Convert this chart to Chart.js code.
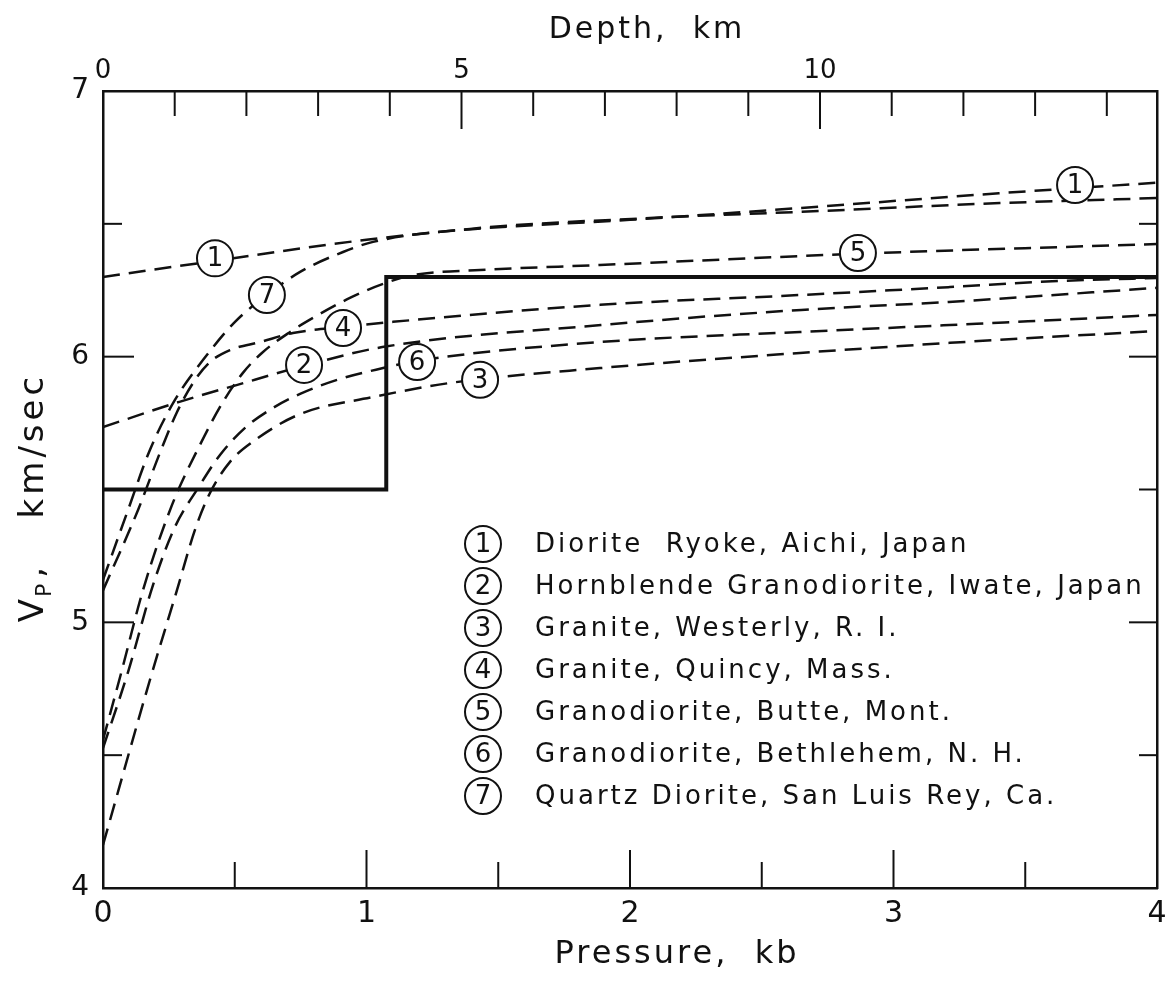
<!DOCTYPE html>
<html>
<head>
<meta charset="utf-8">
<script src="https://cdn.jsdelivr.net/npm/chart.js@4/dist/chart.umd.min.js"></script>
<style>
  html, body { margin: 0; padding: 0; background: #fff; }
  #wrap { width: 1168px; height: 984px; }
</style>
</head>
<body>
<div id="wrap"><canvas id="vpChart" width="1168" height="984"></canvas></div>
<script>
'use strict';

/* ───── DATA ─────────────────────────────────────────────────────────── */
const KM_PER_KB = 3.675;          // depth scale on the top axis

const pressureTicks = [0, 1, 2, 3, 4];
const depthTicks    = [0, 5, 10];
const vpTicks       = [4, 5, 6, 7];

const pressureMarks = [0.5, 1, 1.5, 2, 2.5, 3, 3.5];
const depthMarks    = [1, 2, 3, 4, 5, 6, 7, 8, 9, 10, 11, 12, 13, 14];
const vpMarks       = [4.5, 5, 5.5, 6, 6.5];

const sampleNames = [
    'Diorite  Ryoke, Aichi, Japan',
    'Hornblende Granodiorite, Iwate, Japan',
    'Granite, Westerly, R. I.',
    'Granite, Quincy, Mass.',
    'Granodiorite, Butte, Mont.',
    'Granodiorite, Bethlehem, N. H.',
    'Quartz Diorite, San Luis Rey, Ca.',
];

// [pressure kb, Vp km/sec]
const curve1 = [[0, 6.30], [0.42, 6.36], [1.0, 6.44], [1.4, 6.48], [2.0, 6.515], [2.65, 6.56], [3.4, 6.615], [4, 6.655]];
const curve2 = [[0, 5.735], [0.29, 5.83], [0.51, 5.894], [0.76, 5.965], [1.06, 6.036], [1.89, 6.119], [2.65, 6.176], [3.21, 6.206], [4, 6.259]];
const curve3 = [[0, 4.162], [0.178, 4.783], [0.281, 5.122], [0.349, 5.348], [0.406, 5.487], [0.482, 5.604], [0.577, 5.686], [0.748, 5.784], [1.025, 5.848], [1.317, 5.901], [1.886, 5.957], [2.645, 6.014], [3.214, 6.052], [4, 6.097]];
const curve4 = [[0, 5.12], [0.133, 5.423], [0.216, 5.638], [0.281, 5.792], [0.349, 5.912], [0.406, 5.98], [0.482, 6.025], [0.596, 6.055], [0.721, 6.089], [0.911, 6.112], [1.10, 6.131], [1.886, 6.195], [2.645, 6.232], [3.214, 6.262], [3.632, 6.285], [4, 6.296]];
const curve5 = [[0, 4.557], [0.072, 4.821], [0.152, 5.122], [0.262, 5.442], [0.368, 5.668], [0.455, 5.829], [0.531, 5.939], [0.603, 6.014], [0.71, 6.093], [0.797, 6.146], [0.937, 6.221], [1.063, 6.274], [1.176, 6.307], [1.431, 6.326], [1.886, 6.345], [2.854, 6.387], [4, 6.424]];
const curve6 = [[0, 4.527], [0.095, 4.813], [0.19, 5.141], [0.273, 5.359], [0.361, 5.506], [0.444, 5.63], [0.539, 5.732], [0.645, 5.807], [0.748, 5.86], [0.899, 5.916], [1.063, 5.957], [1.192, 5.984], [1.886, 6.055], [2.645, 6.093], [3.214, 6.119], [4, 6.157]];
const curve7 = [[0, 5.16], [0.095, 5.423], [0.178, 5.649], [0.273, 5.837], [0.38, 5.988], [0.501, 6.131], [0.622, 6.232], [0.748, 6.319], [0.911, 6.394], [1.025, 6.432], [1.393, 6.481], [2.076, 6.522], [2.645, 6.545], [3.404, 6.578], [4, 6.597]];
const curves = [curve1, curve2, curve3, curve4, curve5, curve6, curve7];

// layered-crust model: 5.5 km/sec above 4 km, 6.3 km/sec below
const stepP = [0, 1.075, 1.075, 4];
const stepV = [5.5, 5.5, 6.3, 6.3];

// circled curve numbers placed on the curves
const tagNums = [1, 7, 4, 2, 6, 3, 5, 1];
const tagP    = [0.425, 0.622, 0.911, 0.763, 1.192, 1.431, 2.865, 3.689];
const tagV    = [6.37, 6.232, 6.108, 5.969, 5.98, 5.913, 6.39, 6.646];

/* ───── STYLE ────────────────────────────────────────────────────────── */
const INK  = '#111';
const FONT = '"DejaVu Sans", sans-serif';

function circledNumber(ctx, x, y, n, r, size) {
    ctx.save();
    ctx.beginPath();
    ctx.arc(x, y, r, 0, Math.PI * 2);
    ctx.fillStyle = '#fff';
    ctx.fill();
    ctx.lineWidth = 2;
    ctx.strokeStyle = INK;
    ctx.stroke();
    ctx.fillStyle = INK;
    ctx.font = `${size}px ${FONT}`;
    ctx.textAlign = 'center';
    ctx.textBaseline = 'middle';
    ctx.fillText(String(n), x, y + 1);
    ctx.restore();
}

/* ───── PLUGINS ──────────────────────────────────────────────────────── */
const tickMarks = {
    id: 'tickMarks',
    afterDatasetsDraw(chart) {
        const { ctx, chartArea: a, scales } = chart;
        const seg = (x0, y0, x1, y1) => { ctx.beginPath(); ctx.moveTo(x0, y0); ctx.lineTo(x1, y1); ctx.stroke(); };
        ctx.save();
        ctx.strokeStyle = INK;
        ctx.lineWidth = 2;
        pressureMarks.forEach(p => {
            const x = scales.x.getPixelForValue(p);
            seg(x, a.bottom, x, a.bottom - (pressureTicks.includes(p) ? 38 : 26));
        });
        depthMarks.forEach(d => {
            const x = scales.depth.getPixelForValue(d);
            seg(x, a.top, x, a.top + (depthTicks.includes(d) ? 38 : 25));
        });
        vpMarks.forEach(v => {
            const y = scales.y.getPixelForValue(v);
            const major = vpTicks.includes(v);
            seg(a.left, y, a.left + (major ? 31 : 19), y);
            seg(a.right, y, a.right - (major ? 28 : 18), y);
        });
        ctx.restore();
    },
};

const curveTags = {
    id: 'curveTags',
    afterDatasetsDraw(chart) {
        const { ctx, scales } = chart;
        tagNums.forEach((n, i) => {
            circledNumber(ctx, scales.x.getPixelForValue(tagP[i]), scales.y.getPixelForValue(tagV[i]), n, 18, 26);
        });
    },
};

const sampleKey = {
    id: 'sampleKey',
    afterDraw(chart) {
        const { ctx, chartArea: a } = chart;
        const cx = a.left + 380, y0 = a.top + 453, dy = 42;
        ctx.save();
        sampleNames.forEach((name, i) => {
            const y = y0 + i * dy;
            circledNumber(ctx, cx, y, i + 1, 18, 26);
            ctx.fillStyle = INK;
            ctx.font = `26px ${FONT}`;
            ctx.letterSpacing = '3px';
            ctx.textAlign = 'left';
            ctx.textBaseline = 'middle';
            ctx.fillText(name, cx + 52, y + 1);
            ctx.letterSpacing = '0px';
        });
        ctx.restore();
    },
};

const axisTitles = {
    id: 'axisTitles',
    afterDraw(chart) {
        const { ctx, chartArea: a } = chart;
        ctx.save();
        ctx.fillStyle = INK;
        ctx.textAlign = 'center';
        ctx.textBaseline = 'middle';
        ctx.letterSpacing = '3px';
        ctx.font = `30px ${FONT}`;
        ctx.fillText('Depth,  km', a.left + 544, 30);
        ctx.font = `32px ${FONT}`;
        ctx.fillText('Pressure,  kb', a.left + 574, 955);

        // V_P, km/sec — rotated, with a subscript P
        ctx.letterSpacing = '4px';
        ctx.translate(34, a.top + a.height / 2 + 8);
        ctx.rotate(-Math.PI / 2);
        ctx.textAlign = 'left';
        const big = `34px ${FONT}`, sub = `22px ${FONT}`;
        const rest = ',   km/sec';
        ctx.font = big;
        const wV = ctx.measureText('V').width, wR = ctx.measureText(rest).width;
        ctx.font = sub;
        const wP = ctx.measureText('P').width;
        let x = -(wV + wP + wR) / 2;
        ctx.font = big;
        ctx.fillText('V', x, 0); x += wV;
        ctx.font = sub;
        ctx.fillText('P', x - 2, 11); x += wP;
        ctx.font = big;
        ctx.fillText(rest, x, 0);
        ctx.restore();
    },
};

/* ───── CHART ────────────────────────────────────────────────────────── */
const curveSets = curves.map((pts, i) => ({
    label: sampleNames[i],
    data: pts.map(([p, v]) => ({ x: p, y: v })),
    borderColor: INK,
    borderWidth: 2.5,
    borderDash: [17, 9],
    pointRadius: 0,
    cubicInterpolationMode: 'monotone',
    fill: false,
    order: 2,
}));

const stepSet = {
    label: 'model',
    data: stepP.map((p, i) => ({ x: p, y: stepV[i] })),
    borderColor: INK,
    borderWidth: 4,
    pointRadius: 0,
    tension: 0,
    fill: false,
    order: 1,
};

const tickFont = size => ({ family: FONT, size });
const fixedTicks = list => s => { s.ticks = list.map(v => ({ value: v })); };
const frame = { display: true, color: INK, width: 2.5 };

// pin the plot frame: each axis box gets a fixed size and no label overhang
const fitX = h => s => { s.height = h; s.paddingLeft = 0; s.paddingRight = 0; };
const fitY = w => s => { s.width = w; s.paddingTop = 0; s.paddingBottom = 0; };

new Chart(document.getElementById('vpChart').getContext('2d'), {
    type: 'line',
    data: { datasets: [...curveSets, stepSet] },
    options: {
        responsive: false,
        animation: false,
        events: [],
        layout: { padding: 0 },
        plugins: { legend: { display: false }, tooltip: { enabled: false } },
        scales: {
            x: {
                type: 'linear', position: 'bottom', min: 0, max: 4,
                afterBuildTicks: fixedTicks(pressureTicks),
                afterFit: fitX(96),
                ticks: { font: tickFont(30), color: INK, padding: 8, maxRotation: 0 },
                grid: { display: false, drawTicks: false },
                border: frame,
            },
            depth: {
                type: 'linear', position: 'top', min: 0, max: 4 * KM_PER_KB,
                afterBuildTicks: fixedTicks(depthTicks),
                afterFit: fitX(91),
                ticks: { font: tickFont(26), color: INK, padding: 4, maxRotation: 0 },
                grid: { display: false, drawTicks: false },
                border: frame,
            },
            y: {
                type: 'linear', position: 'left', min: 4, max: 7,
                afterBuildTicks: fixedTicks(vpTicks),
                afterFit: fitY(103),
                ticks: { font: tickFont(28), color: INK, padding: 14 },
                grid: { display: false, drawTicks: false },
                border: frame,
            },
            yRight: {
                type: 'linear', position: 'right', min: 4, max: 7,
                afterFit: fitY(11),
                ticks: { display: false },
                grid: { display: false, drawTicks: false },
                border: frame,
            },
        },
    },
    plugins: [tickMarks, curveTags, sampleKey, axisTitles],
});
</script>
</body>
</html>
